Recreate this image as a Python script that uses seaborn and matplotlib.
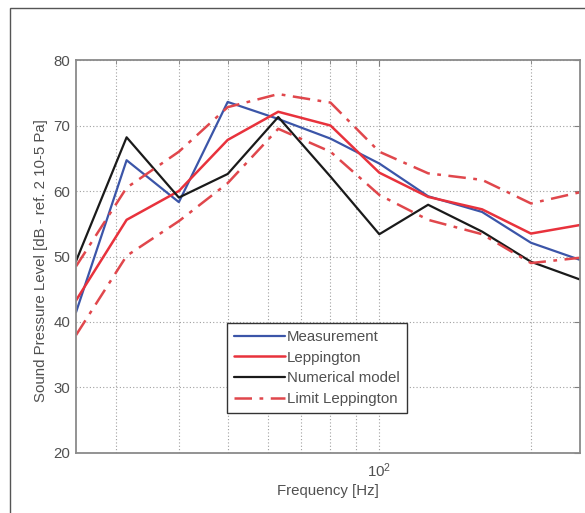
import numpy as np
import pandas as pd
import matplotlib
matplotlib.use("Agg")
import matplotlib.pyplot as plt
from matplotlib.patches import Rectangle
from matplotlib.ticker import FixedLocator, NullFormatter, FixedFormatter
import seaborn as sns

# Bandas de tercio de octava (Hz).
frecuencias = [25, 31.5, 40, 50, 63, 80, 100, 125, 160, 200, 250]

medicion = [41.5, 64.7, 58.3, 73.6, 71.0, 68.0, 64.2, 59.2, 56.8, 52.1, 49.5]
leppington = [43.3, 55.6, 60.0, 67.8, 72.1, 70.0, 62.8, 59.1, 57.2, 53.5, 54.8]
modelo_numerico = [49.3, 68.2, 59.0, 62.6, 71.3, 62.2, 53.4, 57.9, 53.8, 49.2, 46.5]
limite_superior = [48.5, 60.5, 66.0, 72.8, 74.8, 73.5, 66.0, 62.7, 61.7, 58.1, 59.8]
limite_inferior = [38.0, 50.1, 55.4, 61.2, 69.5, 66.0, 59.4, 55.6, 53.4, 49.0, 49.8]

y_ticks = [20, 30, 40, 50, 60, 70, 80]
x_grid = [30, 40, 50, 60, 70, 80, 90, 100, 200]

sns.set_style("white")
plt.rcParams["font.family"] = ["Liberation Sans", "DejaVu Sans"]
plt.rcParams["mathtext.fontset"] = "custom"
plt.rcParams["mathtext.rm"] = "Liberation Sans"
plt.rcParams["xtick.direction"] = "in"
plt.rcParams["ytick.direction"] = "in"

TEXTO = "#505050"
FUENTE = 10.8

fig = plt.figure(figsize=(5.85, 5.13), dpi=100)
ax = fig.add_axes([0.130, 0.117, 0.861, 0.766])

# Marco exterior de la figura.
fig.patches.append(Rectangle((10 / 585, -0.05), 1.2, 1 - 8 / 513 + 0.05,
                             transform=fig.transFigure, fill=False,
                             edgecolor="#555555", linewidth=1.0))

df = pd.DataFrame({
    "f": frecuencias,
    "med": medicion,
    "lep": leppington,
    "num": modelo_numerico,
    "sup": limite_superior,
    "inf": limite_inferior,
})

sns.lineplot(data=df, x="f", y="med", ax=ax, color="#3b55a8", linewidth=1.6, label="Measurement")
sns.lineplot(data=df, x="f", y="lep", ax=ax, color="#e8323c", linewidth=1.8, label="Leppington")
sns.lineplot(data=df, x="f", y="num", ax=ax, color="#1a1a1a", linewidth=1.6, label="Numerical model")
sns.lineplot(data=df, x="f", y="sup", ax=ax, color="#e0474c", linewidth=1.8,
             linestyle=(0, (7, 3, 1.5, 3)), label="Limit Leppington")
sns.lineplot(data=df, x="f", y="inf", ax=ax, color="#e0474c", linewidth=1.8,
             linestyle=(0, (7, 3, 1.5, 3)))

ax.set_xscale("log")
ax.set_xlim(25, 250)
ax.set_ylim(20, 80)

ax.xaxis.set_major_locator(FixedLocator([100]))
ax.xaxis.set_major_formatter(FixedFormatter([r"$\mathregular{10^2}$"]))
ax.xaxis.set_minor_locator(FixedLocator([f for f in x_grid if f != 100]))
ax.xaxis.set_minor_formatter(NullFormatter())
ax.set_yticks(y_ticks)

ax.grid(True, which="both", axis="x", linestyle=(0, (1, 2)), color="#a0a0a0", linewidth=0.8)
ax.grid(True, which="major", axis="y", linestyle=(0, (1, 2)), color="#a0a0a0", linewidth=0.8)

ax.tick_params(which="both", top=True, right=True, colors="#808080",
               labelcolor=TEXTO, labelsize=FUENTE, length=4)
ax.tick_params(which="minor", length=3)
ax.tick_params(axis="x", pad=6)
ax.tick_params(axis="y", pad=4)

for spine in ax.spines.values():
    spine.set_color("#8a8a8a")
    spine.set_linewidth(1.3)

ax.set_xlabel("Frequency [Hz]", fontsize=FUENTE, color=TEXTO)
ax.xaxis.set_label_coords(0.5, -0.080)
ax.set_ylabel("Sound Pressure Level [dB - ref. 2 10-5 Pa]", fontsize=FUENTE, color=TEXTO)
ax.yaxis.set_label_coords(-0.056, 0.49)

leg = ax.legend(loc="lower left", bbox_to_anchor=(0.30, 0.102), fontsize=FUENTE,
                frameon=True, fancybox=False, framealpha=1, edgecolor="#333333",
                handlelength=3.4, handletextpad=0.15, borderpad=0.45, labelspacing=0.45,
                borderaxespad=0)
leg.get_frame().set_linewidth(1.0)
for t in leg.get_texts():
    t.set_color(TEXTO)

fig.savefig("out.png", dpi=100)
